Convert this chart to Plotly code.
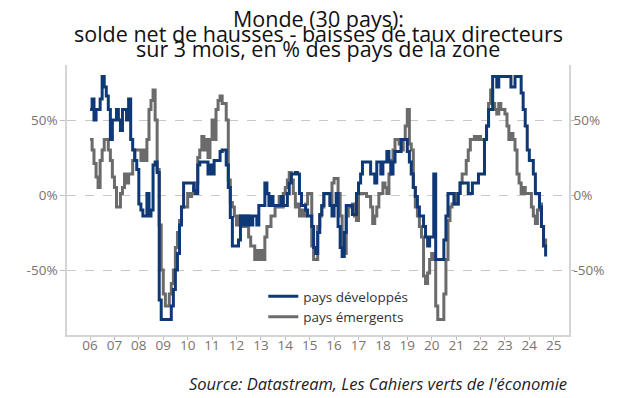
import pandas as pd
import plotly.graph_objects as go

start_month = "2006-01-01"

developed = [
    57, 64, 50, 57, 57, 64, 79, 72, 66, 57, 37, 50,        # 2006
    50, 57, 50, 43, 57, 57, 50, 64, 37, 30, 23, 17,        # 2007
    -6, -10, -14, -14, 1, -14, -10, 20, 22, 15, -70, -83,  # 2008
    -83, -83, -83, -83, -74, -63, -50, -39, -20, -8, 8, 8, # 2009
    8, 8, 8, 3, 1, 20, 22, 22, 22, 22, 14, 20,             # 2010
    14, 23, 23, 23, 29, 30, 30, 20, 5, -15, -34, -34,      # 2011
    -34, -30, -14, -20, -14, -20, -14, -20, -14, -14, -20, -7,  # 2012
    -7, -7, 8, 1, -7, -1, -7, -7, -7, -7, -1, -7,          # 2013
    -7, 1, 8, 14, 14, 15, 14, 1, -7, -7, -10, -14,         # 2014
    -14, -21, -35, -39, -25, -13, -7, 1, 1, 1, -7, -14,    # 2015
    -7, 1, -21, -35, -41, -25, -7, -7, -7, -13, -13, 1,    # 2016
    8, 14, 22, 22, 22, 22, 14, 14, 8, 22, 22, 14,          # 2017
    22, 22, 29, 22, 14, 22, 29, 29, 29, 37, 37, 37,        # 2018
    29, 22, 14, 5, -1, -8, -14, -14, -21, -28, -34, -28,   # 2019
    -28, 14, -43, -43, -43, -43, -30, -14, 1, 1, 1, -6,    # 2020
    -6, 1, 8, 8, 8, 8, 1, 1, 8, 8, 8, 14,                  # 2021
    14, 14, 37, 46, 57, 57, 79, 79, 72, 79, 79, 79,        # 2022
    79, 79, 79, 72, 72, 79, 79, 79, 68, 57, 46, 30,        # 2023
    23, 23, 14, 1, 1, -8, -21, -34, -41,                   # 2024
]

emerging = [
    37, 30, 21, 12, 5, 23, 30, 37, 37, 30, 23, 12,         # 2006
    5, -8, -8, 1, 5, 14, 8, 14, 14, 23, 30, 30,            # 2007
    30, 23, 30, 23, 37, 57, 63, 70, 50, 17, -20, -50,      # 2008
    -66, -74, -74, -66, -59, -50, -35, -25, -17, -8, -8, -8,  # 2009
    1, -1, 1, 5, 8, 25, 30, 39, 30, 37, 25, 37,            # 2010
    50, 37, 57, 63, 66, 61, 61, 50, 10, -5, -8, -14,       # 2011
    -20, -14, -21, -14, -21, -14, -28, -34, -34, -43, -37, -43,  # 2012
    -37, -43, -28, -21, -21, -14, -14, -8, -8, -1, -8, 1,  # 2013
    5, 10, 15, 10, 1, -8, -6, -14, -10, -14, -6, 1,        # 2014
    1, -34, -43, -43, -21, -14, -8, 1, 1, 1, -6, 8,        # 2015
    11, 11, 1, -14, -34, -39, -14, -8, -8, -6, -14, -17,   # 2016
    1, 1, 1, 1, -1, -1, -8, -19, -14, -8, 1, 1,            # 2017
    8, 5, 1, 14, 23, 30, 37, 37, 34, 30, 37, 46,           # 2018
    57, 34, 30, 5, -8, -14, -21, -28, -54, -59, -52, -43,  # 2019
    -39, -43, -74, -83, -83, -83, -66, -43, -17, -8, -6, 1,  # 2020
    -6, 1, 8, 14, 14, 23, 30, 37, 37, 39, 37, 39,          # 2021
    37, 37, 37, 46, 61, 70, 61, 57, 54, 61, 57, 57,        # 2022
    54, 46, 37, 41, 37, 30, 14, 8, 1, 5, 1, 1,             # 2023
    1, -8, -14, -19, -10, -6, -21, -30, -34,               # 2024
]

series_names = ["pays développés", "pays émergents"]
year_labels = [f"{y % 100:02d}" for y in range(2006, 2026)]
year_ticks = [f"{y}-01-01" for y in range(2006, 2026)]
y_ticks = [-50, 0, 50]
y_tick_labels = ["-50%", "0%", "50%"]

dates = pd.date_range(start_month, periods=len(developed), freq="MS")

BLUE = "#0f3877"
GREY = "#6b6b6b"
TICK_COL = "#7b726c"
AXIS_COL = "#d4d4d4"
FONT = "Open Sans"

# page body has an 8px margin: figure starts at (8, 8) on the page
W, H = 628, 390
ML, MT = 59, 57
PW, PH = 502, 270

fig = go.Figure()
fig.add_trace(go.Scatter(x=dates, y=emerging, name=series_names[1], mode="lines",
                         line=dict(color=GREY, width=3, shape="hv"), showlegend=False))
fig.add_trace(go.Scatter(x=dates, y=developed, name=series_names[0], mode="lines",
                         line=dict(color=BLUE, width=3, shape="hv")))
# legend entry for the grey series (listed second), bound to the right axis
fig.add_trace(go.Scatter(x=[None], y=[None], name=series_names[1], mode="lines",
                         line=dict(color=GREY, width=3), yaxis="y2"))

yr = [-93.3, 86.7]
tick_font = dict(size=13.5, color=TICK_COL, family=FONT)
fig.update_layout(
    width=W, height=H, autosize=False,
    margin=dict(l=ML, r=W - ML - PW, t=MT, b=H - MT - PH, pad=0),
    paper_bgcolor="white", plot_bgcolor="white",
    font=dict(family=FONT, color="#222222"),
    showlegend=True,
    legend=dict(x=0.391, y=0.2, xanchor="left", yanchor="top",
                bgcolor="rgba(0,0,0,0)", font=dict(size=13.5, color="#333333", family=FONT),
                tracegroupgap=0),
    xaxis=dict(type="date", range=["2005-01-21", "2025-08-17"],
               tickvals=year_ticks, ticktext=year_labels,
               ticks="outside", ticklen=3, tickcolor="#bdbdbd",
               tickfont=tick_font, ticklabelstandoff=-6,
               showline=True, linecolor=AXIS_COL, linewidth=1.5,
               showgrid=False, zeroline=False),
    yaxis=dict(range=yr, tickvals=y_ticks, ticktext=y_tick_labels,
               ticks="outside", ticklen=5, tickcolor="#bdbdbd",
               tickfont=tick_font,
               showline=True, linecolor=AXIS_COL, linewidth=1.5,
               showgrid=True, gridcolor="#c8c8c8", griddash="dash", gridwidth=1,
               zeroline=False),
    yaxis2=dict(range=yr, tickvals=y_ticks, ticktext=y_tick_labels,
                overlaying="y", side="right", anchor="x",
                ticks="outside", ticklen=4, tickcolor="#bdbdbd",
                tickfont=tick_font, ticklabelstandoff=-4,
                showline=True, linecolor=AXIS_COL, linewidth=1.5,
                showgrid=False, zeroline=False),
)

def paper_y(page_y):
    fig_y = page_y - 8
    return 1 + (MT - fig_y) / PH

title_lines = ["Monde (30 pays):",
               "solde net de hausses - baisses de taux directeurs",
               "sur 3 mois, en % des pays de la zone"]
centers_page = [18.5, 33.5, 49]
for txt, cy in zip(title_lines, centers_page):
    fig.add_annotation(text=txt, xref="paper", yref="paper",
                       x=0.5, y=paper_y(cy), xanchor="center", yanchor="middle",
                       showarrow=False, borderpad=0,
                       font=dict(size=21.5, family=FONT, color="#111111"))

fig.add_annotation(text="<i>Source: Datastream, Les Cahiers verts de l'économie</i>",
                   xref="paper", yref="paper", x=1.0, y=paper_y(383),
                   xanchor="right", yanchor="middle", showarrow=False,
                   font=dict(size=16.5, family=FONT, color="#222222"))

fig.write_html("out.html")
